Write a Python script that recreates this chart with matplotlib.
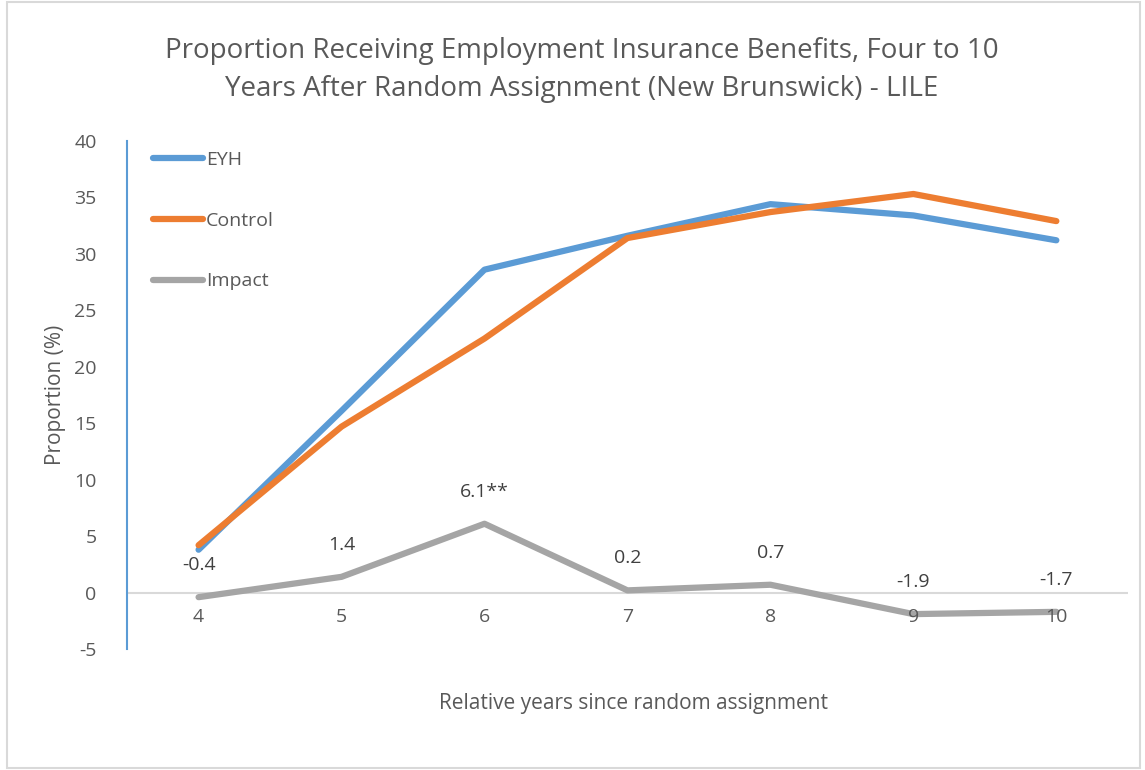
import numpy as np
import matplotlib.pyplot as plt

plt.rcParams['font.family'] = ['Open Sans', 'DejaVu Sans']
plt.rcParams['axes.unicode_minus'] = False

# data
years = [4, 5, 6, 7, 8, 9, 10]
eyh = [3.8, 16.1, 28.6, 31.6, 34.4, 33.4, 31.2]
control = [4.2, 14.7, 22.5, 31.4, 33.7, 35.3, 32.9]
impact = [-0.4, 1.4, 6.1, 0.2, 0.7, -1.9, -1.7]
impact_labels = ["-0.4", "1.4", "6.1**", "0.2", "0.7", "-1.9", "-1.7"]

fig = plt.figure(figsize=(11.45, 7.7), dpi=100)
ax = fig.add_axes([0.111, 0.157, 0.874, 0.660])

x = np.arange(len(years))
ax.plot(x, eyh, color="#5B9BD5", lw=4.5, label="EYH", solid_capstyle="round")
ax.plot(x, control, color="#ED7D31", lw=4.5, label="Control", solid_capstyle="round")
ax.plot(x, impact, color="#A5A5A5", lw=4.5, label="Impact", solid_capstyle="round")

for xi, v, s in zip(x, impact, impact_labels):
    ax.annotate(s, (xi, v), xytext=(0, 23), textcoords="offset points",
                ha="center", va="center", fontsize=14, color="#404040")

ax.set_xlim(-0.5, len(years) - 0.5)
ax.set_ylim(-5, 40)
ax.set_yticks(range(-5, 41, 5))
ax.set_xticks([])
for xi, yr in zip(x, years):
    ax.text(xi, -1.4, str(yr), ha="center", va="top", fontsize=14, color="#595959")

ax.axhline(0, color="#D9D9D9", lw=1.5, zorder=0)
for s in ["top", "right", "bottom"]:
    ax.spines[s].set_visible(False)
ax.spines["left"].set_color("#5B9BD5")
ax.spines["left"].set_linewidth(1.5)
ax.tick_params(axis="y", length=0, labelsize=14, labelcolor="#595959", pad=22)

ax.set_ylabel("Proportion (%)", fontsize=15, color="#595959", labelpad=6)
fig.text(0.553, 0.079, "Relative years since random assignment", ha="center",
         fontsize=15, color="#595959")
fig.text(0.508, 0.909, "Proportion Receiving Employment Insurance Benefits, Four to 10\n"
         "Years After Random Assignment (New Brunswick) - LILE", ha="center", va="center",
         fontsize=20, color="#595959", linespacing=1.45)

leg = ax.legend(loc="upper left", bbox_to_anchor=(0.008, 1.015), frameon=False,
                fontsize=14, labelspacing=2.2, handlelength=2.6, handletextpad=0.15,
                labelcolor="#595959")

fig.patches.append(plt.Rectangle((0.006, 0.002), 0.99, 0.996, transform=fig.transFigure,
                                 fill=False, edgecolor="#D9D9D9", lw=1.5))

plt.savefig("out.png")
